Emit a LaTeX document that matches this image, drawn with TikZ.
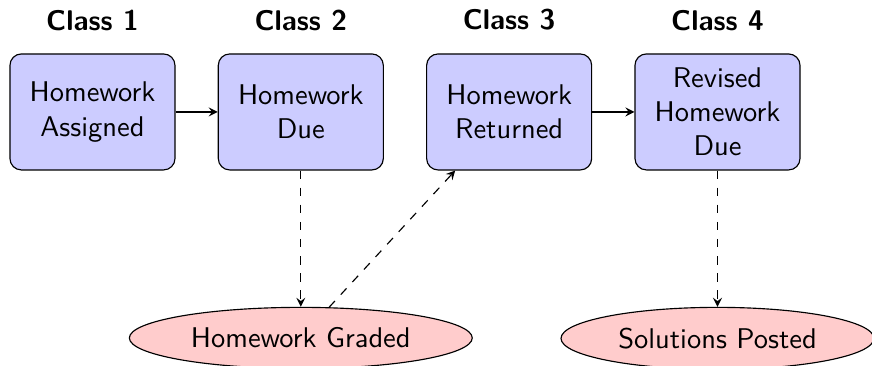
\documentclass[tikz,border=0pt]{standalone}
\usetikzlibrary{positioning,shapes.geometric}
\renewcommand{\familydefault}{\sfdefault}

\begin{document}
\begin{tikzpicture}[
    classbox/.style={draw,rounded corners,fill=blue!20,text width=1.8cm,align=center,minimum height=1.43cm},
    result/.style={draw,ellipse,fill=red!20,inner sep=4pt},
    heading/.style={font=\bfseries},
    node distance=0.52cm]
    \useasboundingbox (0,0) rectangle (10.75,-4.5);
    % class meetings
    \node[classbox] (assigned) at (1.14,-1.38) {Homework Assigned};
    \node[classbox,right=of assigned] (due) {Homework Due};
    \node[classbox,right=of due] (returned) {Homework Returned};
    \node[classbox,right=of returned] (revised) {Revised Homework Due};
    \node[heading,above=0.16cm of assigned] (c1) {Class 1};
    \node[heading,above=0.16cm of due] (c2) {Class 2};
    \node[heading,above=0.16cm of returned] (c3) {Class 3};
    \node[heading,above=0.16cm of revised] (c4) {Class 4};
    % outside of class
    \node[result,below=1.68cm of due] (graded) {Homework Graded};
    \node[result,below=1.68cm of revised] (posted) {Solutions Posted};
    \draw[-stealth] (assigned) -- (due);
    \draw[-stealth] (returned) -- (revised);
    \draw[-stealth,dashed] (due) -- (graded);
    \draw[-stealth,dashed] (graded) -- (returned);
    \draw[-stealth,dashed] (revised) -- (posted);
\end{tikzpicture}
\end{document}
